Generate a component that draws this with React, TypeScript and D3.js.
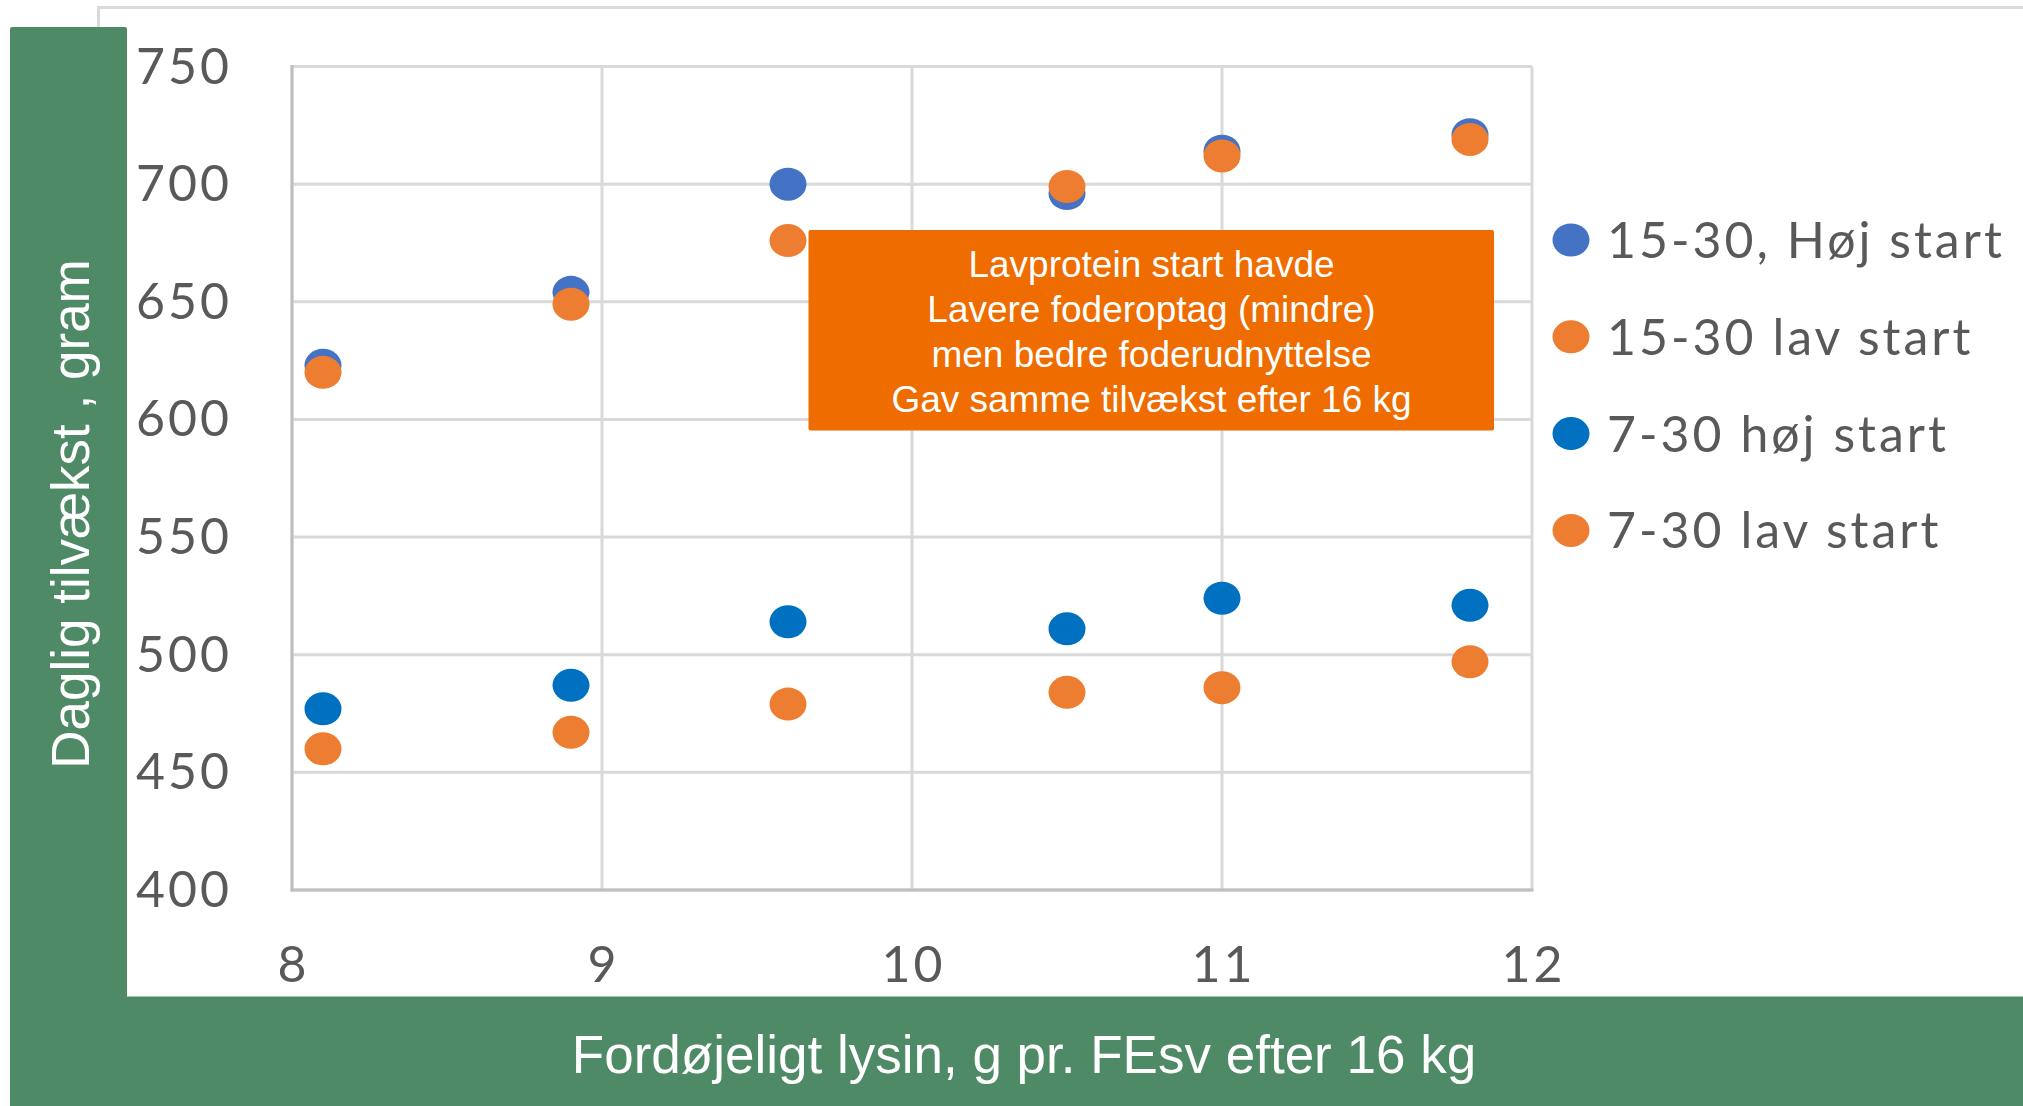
import React from "react";
import * as d3 from "d3";

const xValues = [8.1, 8.9, 9.6, 10.5, 11.0, 11.8];
const s1530Hoj = [623, 654, 700, 696, 714, 721];
const s1530Lav = [620, 649, 676, 699, 712, 719];
const s730Hoj = [477, 487, 514, 511, 524, 521];
const s730Lav = [460, 467, 479, 484, 486, 497];
const seriesNames = ["15-30, Høj start", "15-30 lav start", "7-30 høj start", "7-30 lav start"];
const seriesColors = ["#4472C4", "#ED7D31", "#0070C0", "#ED7D31"];
const xTicks = [8, 9, 10, 11, 12];
const yTicks = [400, 450, 500, 550, 600, 650, 700, 750];
const annotationLines = [
  "Lavprotein start havde",
  "Lavere foderoptag (mindre)",
  "men bedre foderudnyttelse",
  "Gav samme tilvækst efter 16 kg",
];
const yTitle = "Daglig tilvækst , gram";
const xTitle = "Fordøjeligt lysin, g pr. FEsv efter 16 kg";

const W = 2023;
const H = 1106;
const plot = { left: 292, right: 1532, top: 66.5, bottom: 890 };
const green = "#4E8A65";
const grid = "#D9D9D9";
const axisCol = "#BFBFBF";
const textGray = "#595959";
const tickFont = "Lato, 'Open Sans', sans-serif";
const arial = "'Liberation Sans', Arial, sans-serif";

export default function App() {
  const x = d3.scaleLinear().domain([8, 12]).range([plot.left, plot.right]);
  const y = d3.scaleLinear().domain([400, 750]).range([plot.bottom, plot.top]);
  const allSeries = [s1530Hoj, s1530Lav, s730Hoj, s730Lav];

  return (
    <svg
      width={W}
      height={H}
      style={{ position: "absolute", left: 0, top: 0, background: "#fff" }}
    >
      <rect x={0} y={0} width={W} height={H} fill="#fff" />
      {/* outer chart border */}
      <path d={`M${98.5},${H} V${7.5} H${W + 5}`} fill="none" stroke={grid} strokeWidth={3} />
      {/* green bands */}
      <rect x={10} y={27} width={117} height={H - 27} fill={green} rx={2} />
      <rect x={10} y={996.5} width={W - 10} height={H - 996.5} fill={green} />

      {/* gridlines */}
      {yTicks.map((t) => (
        <line key={"gy" + t} x1={plot.left} x2={plot.right} y1={y(t)} y2={y(t)} stroke={grid} strokeWidth={3} />
      ))}
      {xTicks.map((t) => (
        <line key={"gx" + t} x1={x(t)} x2={x(t)} y1={plot.top} y2={plot.bottom} stroke={grid} strokeWidth={3} />
      ))}
      {/* axis lines */}
      <line x1={plot.left} x2={plot.left} y1={plot.top - 1.5} y2={plot.bottom + 1.5} stroke={axisCol} strokeWidth={3} />
      <line x1={plot.left - 1.5} x2={plot.right + 1.5} y1={plot.bottom} y2={plot.bottom} stroke={axisCol} strokeWidth={3} />

      {/* y tick labels */}
      {yTicks.map((t) => (
        <text
          key={"ly" + t}
          x={232}
          y={y(t) + 17}
          textAnchor="end"
          fontFamily={tickFont}
          fontSize={50}
          letterSpacing={3}
          fill={textGray}
        >
          {t}
        </text>
      ))}
      {/* x tick labels */}
      {xTicks.map((t) => (
        <text
          key={"lx" + t}
          x={x(t) + 1.5}
          y={982}
          textAnchor="middle"
          fontFamily={tickFont}
          fontSize={50}
          letterSpacing={3}
          fill={textGray}
        >
          {t}
        </text>
      ))}

      {/* points */}
      {allSeries.map((vals, si) => (
        <g key={"s" + si}>
          {vals.map((v, i) => (
            <ellipse key={i} cx={x(xValues[i])} cy={y(v)} rx={18.5} ry={16.5} fill={seriesColors[si]} />
          ))}
        </g>
      ))}

      {/* annotation box */}
      <rect x={808.5} y={230} width={685.5} height={200.5} fill="#EE6C00" rx={2} />
      {annotationLines.map((l, i) => (
        <text
          key={"a" + i}
          x={1151.5}
          y={277 + i * 45}
          textAnchor="middle"
          fontFamily={arial}
          fontSize={37}
          fill="#fff"
        >
          {l}
        </text>
      ))}

      {/* legend */}
      {seriesNames.map((n, i) => (
        <g key={"lg" + i}>
          <ellipse cx={1571} cy={240 + i * 96.8} rx={18.5} ry={16.5} fill={seriesColors[i]} />
          <text
            x={1607}
            y={258 + i * 96.8}
            fontFamily={tickFont}
            fontSize={50}
            letterSpacing={3}
            fill={textGray}
          >
            {n}
          </text>
        </g>
      ))}

      {/* axis titles */}
      <text
        transform={`translate(89,514) rotate(-90)`}
        textAnchor="middle"
        fontFamily={arial}
        fontSize={53}
        fill="#fff"
      >
        {yTitle}
      </text>
      <text x={1024} y={1073} textAnchor="middle" fontFamily={arial} fontSize={53} fill="#fff">
        {xTitle}
      </text>
    </svg>
  );
}
